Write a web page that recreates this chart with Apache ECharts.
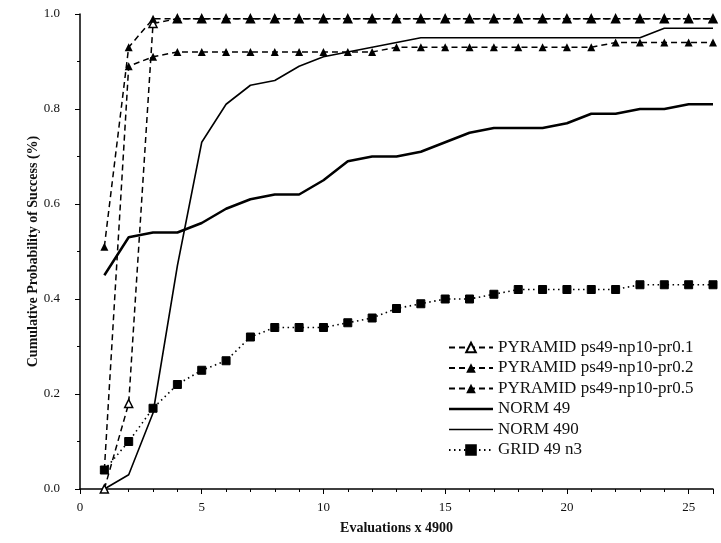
<!DOCTYPE html>
<html>
<head>
<meta charset="utf-8">
<script src="https://cdn.jsdelivr.net/npm/echarts@6/dist/echarts.min.js"></script>
<style>html,body{margin:0;padding:0;background:#fff}#c{width:721px;height:543px}</style>
</head>
<body>
<div id="c"></div>
<script>
var xValues = [1,2,3,4,5,6,7,8,9,10,11,12,13,14,15,16,17,18,19,20,21,22,23,24,25,26];
var pyr01 = [0.00,0.18,0.98,0.99,0.99,0.99,0.99,0.99,0.99,0.99,0.99,0.99,0.99,0.99,0.99,0.99,0.99,0.99,0.99,0.99,0.99,0.99,0.99,0.99,0.99,0.99];
var pyr02 = [0.51,0.93,0.99,0.99,0.99,0.99,0.99,0.99,0.99,0.99,0.99,0.99,0.99,0.99,0.99,0.99,0.99,0.99,0.99,0.99,0.99,0.99,0.99,0.99,0.99,0.99];
var pyr05 = [0.04,0.89,0.91,0.92,0.92,0.92,0.92,0.92,0.92,0.92,0.92,0.92,0.93,0.93,0.93,0.93,0.93,0.93,0.93,0.93,0.93,0.94,0.94,0.94,0.94,0.94];
var norm49 = [0.45,0.53,0.54,0.54,0.56,0.59,0.61,0.62,0.62,0.65,0.69,0.70,0.70,0.71,0.73,0.75,0.76,0.76,0.76,0.77,0.79,0.79,0.80,0.80,0.81,0.81];
var norm490 = [0.00,0.03,0.16,0.47,0.73,0.81,0.85,0.86,0.89,0.91,0.92,0.93,0.94,0.95,0.95,0.95,0.95,0.95,0.95,0.95,0.95,0.95,0.95,0.97,0.97,0.97];
var grid49 = [0.04,0.10,0.17,0.22,0.25,0.27,0.32,0.34,0.34,0.34,0.35,0.36,0.38,0.39,0.40,0.40,0.41,0.42,0.42,0.42,0.42,0.42,0.43,0.43,0.43,0.43];
var seriesNames = ['PYRAMID ps49-np10-pr0.1','PYRAMID ps49-np10-pr0.2','PYRAMID ps49-np10-pr0.5','NORM 49','NORM 490','GRID 49 n3'];

function pairs(arr){ return xValues.map(function(x,i){ return [x, arr[i]]; }); }
var serif = '"Liberation Serif","DejaVu Serif",serif';
var chart = echarts.init(document.getElementById('c'));
function dashed(name, data, hollow){
  return {
    name: name, type: 'line', data: pairs(data),
    symbol: 'triangle', symbolSize: 8,
    lineStyle: {color:'#000', width:1.5, type:[6,4]},
    itemStyle: {color: hollow ? '#fff' : '#000', borderColor:'#000', borderWidth: hollow ? 1.5 : 0},
    z: 3
  };
}
function lineIcon(th){
  var a = (6 - th/2).toFixed(2), b = (6 + th/2).toFixed(2);
  return 'path://M0,0L44,0L44,0.01Z M0,' + a + 'L44,' + a + 'L44,' + b + 'L0,' + b + 'Z M0,12L44,12L44,12.01Z';
}
chart.setOption({
  animation: false,
  backgroundColor: '#fff',
  grid: {left: 80, right: 8, top: 14, bottom: 54},
  legend: {
    orient: 'vertical', left: 443, top: 334,
    itemWidth: 44, itemHeight: 12, itemGap: 3.5,
    textStyle: {fontFamily: serif, fontSize: 17, color: '#111', lineHeight: 17},
    data: [seriesNames[0], seriesNames[1], seriesNames[2],
      {name: seriesNames[3], icon: lineIcon(2.5)},
      {name: seriesNames[4], icon: lineIcon(1.6)},
      seriesNames[5]]
  },
  xAxis: {
    type: 'value', min: 0, max: 26, interval: 5,
    name: 'Evaluations x 4900', nameLocation: 'middle', nameGap: 32,
    nameTextStyle: {fontFamily: serif, fontSize: 14, fontWeight: 'bold', color: '#111'},
    axisLine: {lineStyle: {color: '#000', width: 1.5}},
    axisTick: {show: true, length: 5, lineStyle: {color:'#000'}},
    minorTick: {show: true, splitNumber: 5, length: 3, lineStyle: {color:'#000'}},
    axisLabel: {fontFamily: serif, fontSize: 13, color: '#111', margin: 12, showMaxLabel: false},
    splitLine: {show: false}
  },
  yAxis: {
    type: 'value', min: 0, max: 1, interval: 0.2,
    name: 'Cumulative Probability of Success (%)', nameLocation: 'middle', nameGap: 40,
    nameMoveOverlap: false,
    nameTextStyle: {fontFamily: serif, fontSize: 14, fontWeight: 'bold', color: '#111'},
    axisLine: {show: true, lineStyle: {color: '#000', width: 1.5}},
    axisTick: {show: true, length: 5, lineStyle: {color:'#000'}},
    minorTick: {show: true, splitNumber: 2, length: 3, lineStyle: {color:'#000'}},
    axisLabel: {fontFamily: serif, fontSize: 13, color: '#111', margin: 20,
      formatter: function(v){ return v.toFixed(1); }},
    splitLine: {show: false}
  },
  series: [
    dashed(seriesNames[0], pyr01, true),
    dashed(seriesNames[1], pyr02, false),
    dashed(seriesNames[2], pyr05, false),
    {name: seriesNames[3], type:'line', data: pairs(norm49), symbol:'none',
     lineStyle:{color:'#000', width:2.5}, itemStyle:{color:'#000'}},
    {name: seriesNames[4], type:'line', data: pairs(norm490), symbol:'none',
     lineStyle:{color:'#000', width:1.6}, itemStyle:{color:'#000'}},
    {name: seriesNames[5], type:'line', data: pairs(grid49), symbol:'rect', symbolSize: 8,
     lineStyle:{color:'#000', width:1.6, type:[1.5,3.5]},
     itemStyle:{color:'#000', borderColor:'#000', borderWidth:1}, z: 4}
  ]
});
</script>
</body>
</html>
